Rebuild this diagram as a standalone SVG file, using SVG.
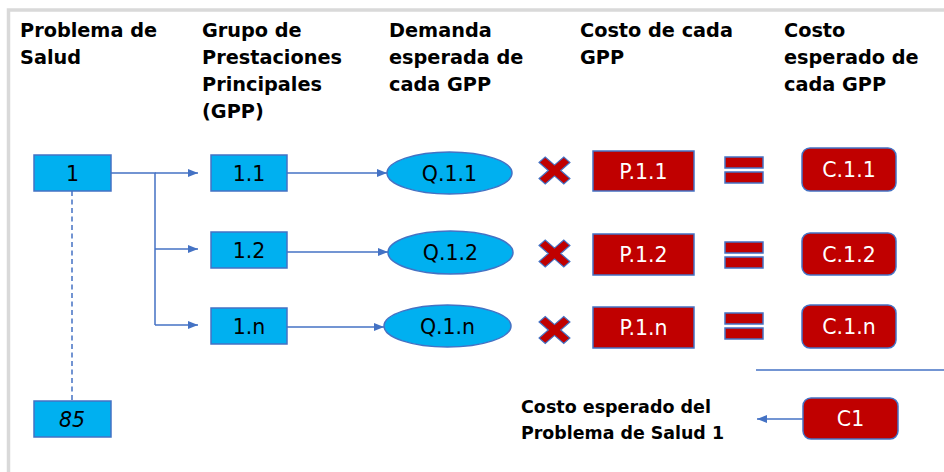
<svg xmlns="http://www.w3.org/2000/svg" width="944" height="472" viewBox="0 0 944 472">
<style>
.hd{font-family:"DejaVu Sans",sans-serif;font-weight:bold;font-size:19.3px;fill:#000}
.ft{font-family:"DejaVu Sans",sans-serif;font-weight:bold;font-size:17.5px;fill:#000}
.lbl{font-family:"DejaVu Sans",sans-serif;font-size:20.5px;text-anchor:middle}
.blk{fill:#000}
.wht{fill:#fff}
.cy{fill:#00B0F0;stroke:#4472C4;stroke-width:1.5}
.rd{fill:#C00000;stroke:#4472C4;stroke-width:1.5}
.ln{fill:none;stroke:#4472C4;stroke-width:1.5}
</style>
<defs>
<marker id="ah" markerWidth="10" markerHeight="8" refX="10" refY="4" orient="auto" markerUnits="userSpaceOnUse">
<path d="M0,0 L10,4 L0,8 Z" fill="#4472C4"/>
</marker>
<polygon id="xm" points="-15,-9 -9,-15 0,-6 9,-15 15,-9 6,0 15,9 9,15 0,6 -9,15 -15,9 -6,0" fill="#C00000" stroke="#4472C4" stroke-width="1.2"/>
</defs>
<rect width="944" height="472" fill="#fff"/>
<path d="M8.5,472 V10 H944" fill="none" stroke="#D9D9D9" stroke-width="3.5"/>

<g id="headers">
<text class="hd" x="20" y="37">Problema de</text>
<text class="hd" x="20" y="64">Salud</text>
<text class="hd" x="202" y="37">Grupo de</text>
<text class="hd" x="202" y="64">Prestaciones</text>
<text class="hd" x="202" y="91">Principales</text>
<text class="hd" x="202" y="118">(GPP)</text>
<text class="hd" x="389" y="37">Demanda</text>
<text class="hd" x="389" y="64">esperada de</text>
<text class="hd" x="389" y="91">cada GPP</text>
<text class="hd" x="580" y="37">Costo de cada</text>
<text class="hd" x="580" y="64">GPP</text>
<text class="hd" x="784" y="37">Costo</text>
<text class="hd" x="784" y="64">esperado de</text>
<text class="hd" x="784" y="91">cada GPP</text>
</g>

<g id="connectors">
<path class="ln" d="M111,173 H155 V325"/>
<path class="ln" d="M155,173 H198" marker-end="url(#ah)"/>
<path class="ln" d="M155,249 H198" marker-end="url(#ah)"/>
<path class="ln" d="M155,325 H198" marker-end="url(#ah)"/>
<path class="ln" d="M287,173 H387" marker-end="url(#ah)"/>
<path class="ln" d="M287,252 H388" marker-end="url(#ah)"/>
<path class="ln" d="M287,327 H384" marker-end="url(#ah)"/>
<path class="ln" d="M72,191 V401" stroke-dasharray="5,3.5"/>
<path class="ln" d="M756,370 H944"/>
<path class="ln" d="M803,419 H757" marker-end="url(#ah)"/>
</g>

<g id="n1"><rect class="cy" x="34" y="155" width="77" height="36"/><text class="lbl blk" x="72.5" y="180.5">1</text></g>
<g id="n85"><rect class="cy" x="34" y="401" width="77" height="36"/><text class="lbl blk" x="72" y="426.5" font-style="italic">85</text></g>

<g id="n1_1"><rect class="cy" x="211" y="155" width="76" height="36"/><text class="lbl blk" x="249" y="180.5">1.1</text></g>
<g id="n1_2"><rect class="cy" x="211" y="232" width="76" height="36"/><text class="lbl blk" x="249" y="257.5">1.2</text></g>
<g id="n1_n"><rect class="cy" x="211" y="308" width="76" height="36"/><text class="lbl blk" x="249" y="333.5">1.n</text></g>

<g id="q1_1"><ellipse class="cy" cx="449.5" cy="173" rx="62.5" ry="21"/><text class="lbl blk" x="449.5" y="180.5">Q.1.1</text></g>
<g id="q1_2"><ellipse class="cy" cx="450.5" cy="252.5" rx="62.5" ry="21.5"/><text class="lbl blk" x="450.5" y="260">Q.1.2</text></g>
<g id="q1_n"><ellipse class="cy" cx="447.5" cy="326" rx="63.5" ry="21"/><text class="lbl blk" x="447.5" y="333.5">Q.1.n</text></g>

<g id="x1"><use href="#xm" transform="translate(554.5,170.5) scale(1.03,0.9)"/></g>
<g id="x2"><use href="#xm" transform="translate(554.5,253.5) scale(1.03,0.9)"/></g>
<g id="x3"><use href="#xm" transform="translate(554.5,330) scale(1.03,0.9)"/></g>

<g id="p1_1"><rect class="rd" x="593" y="151" width="101" height="40"/><text class="lbl wht" x="643.5" y="178.5">P.1.1</text></g>
<g id="p1_2"><rect class="rd" x="593" y="234" width="101" height="41"/><text class="lbl wht" x="643.5" y="262">P.1.2</text></g>
<g id="p1_n"><rect class="rd" x="593" y="307" width="101" height="41"/><text class="lbl wht" x="643.5" y="335">P.1.n</text></g>

<g id="eq1"><rect class="rd" x="725" y="157" width="38" height="11"/><rect class="rd" x="725" y="172" width="38" height="11"/></g>
<g id="eq2"><rect class="rd" x="725" y="242" width="38" height="11"/><rect class="rd" x="725" y="257" width="38" height="11"/></g>
<g id="eq3"><rect class="rd" x="725" y="313" width="38" height="11"/><rect class="rd" x="725" y="328" width="38" height="11"/></g>

<g id="c1_1"><rect class="rd" x="802" y="148" width="94" height="43" rx="8"/><text class="lbl wht" x="849" y="177">C.1.1</text></g>
<g id="c1_2"><rect class="rd" x="802" y="233" width="94" height="42" rx="8"/><text class="lbl wht" x="849" y="261.5">C.1.2</text></g>
<g id="c1_n"><rect class="rd" x="802" y="305" width="94" height="43" rx="8"/><text class="lbl wht" x="849" y="334">C.1.n</text></g>

<g id="c1"><rect class="rd" x="803" y="398" width="95" height="41" rx="8"/><text class="lbl wht" x="850.5" y="426">C1</text></g>

<g id="total_label">
<text class="ft" x="521" y="413" textLength="190" lengthAdjust="spacingAndGlyphs">Costo esperado del</text>
<text class="ft" x="521" y="439" textLength="203" lengthAdjust="spacingAndGlyphs">Problema de Salud 1</text>
</g>
</svg>
